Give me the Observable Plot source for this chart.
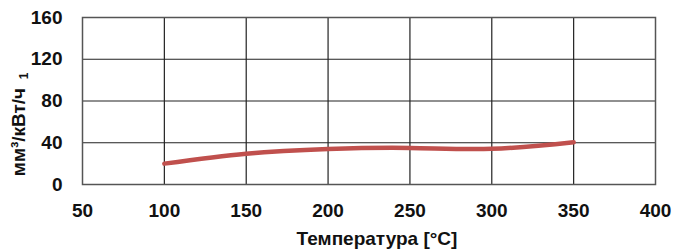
<!DOCTYPE html>
<html><head><meta charset="utf-8">
<script src="https://cdn.jsdelivr.net/npm/d3@7"></script>
<script src="https://cdn.jsdelivr.net/npm/@observablehq/plot@0.6"></script>
<style>
body{margin:0;background:#fff;}
svg{font-family:"Liberation Sans",Arial,sans-serif;}
</style></head><body>
<div id="chart"></div>
<script>
const temps = [100, 150, 200, 250, 300, 350];
const values = [20, 29.5, 34, 35, 34.2, 40.5];
const xTicks = [50, 100, 150, 200, 250, 300, 350, 400];
const yTicks = [0, 40, 80, 120, 160];
const xLabel = "Температура [°C]";
const yLabel = "мм³/кВт/ч";
const yNote = "1";

const data = temps.map((t, i) => ({t, v: values[i]}));

const chart = Plot.plot({
  width: 675, height: 250,
  marginLeft: 82, marginRight: 20, marginTop: 17, marginBottom: 66,
  x: {domain: [50, 400]},
  y: {domain: [0, 160]},
  marks: [
    Plot.ruleX(xTicks.slice(1, -1), {stroke: "#222", strokeWidth: 1.2}),
    Plot.ruleY(yTicks.slice(1, -1), {stroke: "#222", strokeWidth: 1.2}),
    Plot.frame({stroke: "#555", strokeWidth: 1.5}),
    Plot.line(data, {x: "t", y: "v", stroke: "#C0504D", strokeWidth: 4.5, curve: "natural"}),
    Plot.axisX(xTicks, {tickSize: 0, tickPadding: 19, fontSize: 19, fontWeight: "bold", fill: "#111", label: null}),
    Plot.axisY(yTicks, {tickSize: 0, tickPadding: 20, fontSize: 19, fontWeight: "bold", fill: "#111", label: null}),
    Plot.text([xLabel], {frameAnchor: "bottom", dy: 60, dx: 8, fontSize: 19, fontWeight: "bold", fill: "#111"}),
    Plot.text([yLabel], {frameAnchor: "left", textAnchor: "middle", dx: -64, dy: 31, rotate: -90, fontSize: 19, fontWeight: "bold", fill: "#111"}),
    Plot.text([yNote], {frameAnchor: "left", textAnchor: "middle", dx: -58, dy: -25, rotate: -90, fontSize: 12, fontWeight: "bold", fill: "#111"})
  ]
});
document.getElementById("chart").appendChild(chart);
</script>
</body></html>
